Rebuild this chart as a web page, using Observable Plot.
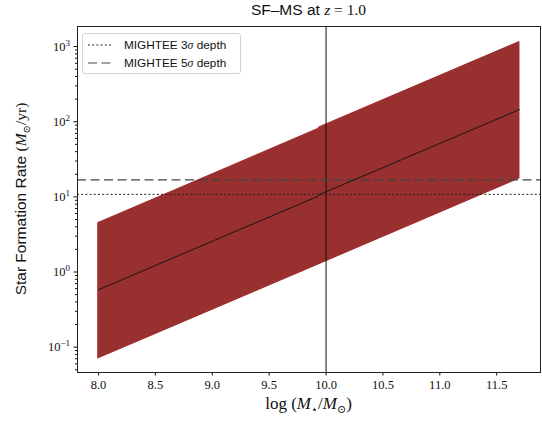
<!DOCTYPE html>
<html>
<head>
<meta charset="utf-8">
<script src="https://cdn.jsdelivr.net/npm/d3@7"></script>
<script src="https://cdn.jsdelivr.net/npm/@observablehq/plot@0.6"></script>
<style>
  html, body { margin: 0; padding: 0; background: white; }
  #wrap { position: relative; width: 542px; height: 422px; overflow: hidden; }
  #wrap > svg { position: absolute; left: 0; top: 0; }
  .sans { font-family: "Liberation Sans", "DejaVu Sans", sans-serif; }
  .serif { font-family: "Liberation Serif", "DejaVu Serif", serif; }
  #title { position: absolute; left: 77px; width: 463px; top: 1px; text-align: center; font-size: 15.5px; color: #111; white-space: nowrap; }
  #ylabel { position: absolute; left: 22px; top: 199px; transform: translate(-50%, -50%) rotate(-90deg); font-size: 15.5px; color: #111; white-space: nowrap; }
  #xlabel { position: absolute; left: 77px; width: 463px; top: 394px; text-align: center; font-size: 17px; color: #111; white-space: nowrap; }
  #legend { position: absolute; left: 82px; top: 33px; width: 157px; height: 39px; border: 1px solid #d4d4d4; border-radius: 3px; background: rgba(255,255,255,0.85); }
  .row { position: absolute; left: 5px; height: 16px; display: flex; align-items: center; font-size: 11.8px; color: #111; white-space: nowrap; }
  .row svg { display: block; margin-right: 12px; }
</style>
</head>
<body>
<div id="wrap">
  <div id="title" class="sans">SF–MS at <span class="serif"><i>z</i> = 1.0</span></div>
  <div id="ylabel" class="sans">Star Formation Rate <span class="serif">(<i>M</i><sub style="font-size:10px">⊙</sub>/yr)</span></div>
  <div id="xlabel" class="serif">log (<i>M</i><sub style="font-size:11px">⋆</sub>/<i>M</i><sub style="font-size:11px">⊙</sub>)</div>
  <div id="legend">
    <div class="row sans" style="top:3px"><svg width="24" height="4"><line x1="0" x2="24" y1="2" y2="2" stroke="#222" stroke-width="1" stroke-dasharray="2,2.2"/></svg>MIGHTEE 3<i class="serif">σ</i>&nbsp;depth</div>
    <div class="row sans" style="top:21px"><svg width="24" height="4"><line x1="0" x2="24" y1="2" y2="2" stroke="#444" stroke-width="1.2" stroke-dasharray="9,4.5"/></svg>MIGHTEE 5<i class="serif">σ</i>&nbsp;depth</div>
  </div>
</div>
<script>
// ---- data ----
const mass    = [8.0, 8.73, 9.93, 9.94, 11.7];          // log stellar mass
const sfrMid  = [0.58, 1.72, 10.2, 10.7, 145];         // main-sequence SFR
const sfrLow  = [0.071, 0.21, 1.25, 1.27, 17.5];       // lower envelope
const sfrHigh = [4.5, 13.3, 80, 84, 1150];             // upper envelope
const depth3sigma = [10.8];                            // MIGHTEE 3σ depth
const depth5sigma = [16.8];                            // MIGHTEE 5σ depth
const markMass = [10.0];                               // vertical marker
const xTicks = [8.0, 8.5, 9.0, 9.5, 10.0, 10.5, 11.0, 11.5];
const yTicks = [0.1, 1, 10, 100, 1000];
const yExp   = ["−1", "0", "1", "2", "3"];

const table = mass.map((m, i) => ({mass: m, mid: sfrMid[i], low: sfrLow[i], high: sfrHigh[i]}));
const minorTicks = [];
for (let k = -2; k <= 3; k++) for (let j = 2; j <= 9; j++) {
  const v = j * Math.pow(10, k);
  if (v > 0.046 && v < 1850) minorTicks.push(v);
}
const band = "#97302f";

const chart = Plot.plot({
  width: 542, height: 422,
  marginLeft: 77, marginRight: 2, marginTop: 26, marginBottom: 50,
  x: {domain: [7.815, 11.885], label: null},
  y: {type: "log", domain: [0.046, 1850], label: null},
  style: {fontFamily: "'Liberation Serif', 'DejaVu Serif', serif", fontSize: "12.5px", color: "#111", background: "transparent"},
  marks: [
    Plot.areaY(table, {x: "mass", y1: "low", y2: "high", fill: band, stroke: "#a02a2d", strokeWidth: 1}),
    Plot.ruleX(markMass, {stroke: "#111", strokeWidth: 1}),
    Plot.ruleY(depth3sigma, {stroke: "#222", strokeWidth: 1, strokeDasharray: "2,2.2"}),
    Plot.ruleY(depth5sigma, {stroke: "#444", strokeWidth: 1.2, strokeDasharray: "9,4.5"}),
    Plot.line(table, {x: "mass", y: "mid", stroke: "#111", strokeWidth: 0.9}),
    Plot.axisX({ticks: xTicks, tickFormat: d3.format(".1f"), tickSize: 3.5, tickPadding: 4, label: null}),
    Plot.axisY({ticks: yTicks, tickFormat: d => "10^" + yExp[yTicks.indexOf(d)], tickSize: 3.5, tickPadding: 4, label: null}),
    Plot.axisY({ticks: minorTicks, tickFormat: () => "", tickSize: 2, label: null}),
    Plot.frame({stroke: "#222", strokeWidth: 1})
  ]
});

// superscripts for power-of-ten labels
d3.select(chart).selectAll("text").each(function() {
  const t = this.textContent;
  const m = /^10\^(.+)$/.exec(t);
  if (!m) return;
  const sel = d3.select(this);
  sel.text("10");
  sel.append("tspan").attr("dy", "-0.55em").attr("font-size", "9px").text(m[1]);
});

document.getElementById("wrap").prepend(chart);
</script>
</body>
</html>
